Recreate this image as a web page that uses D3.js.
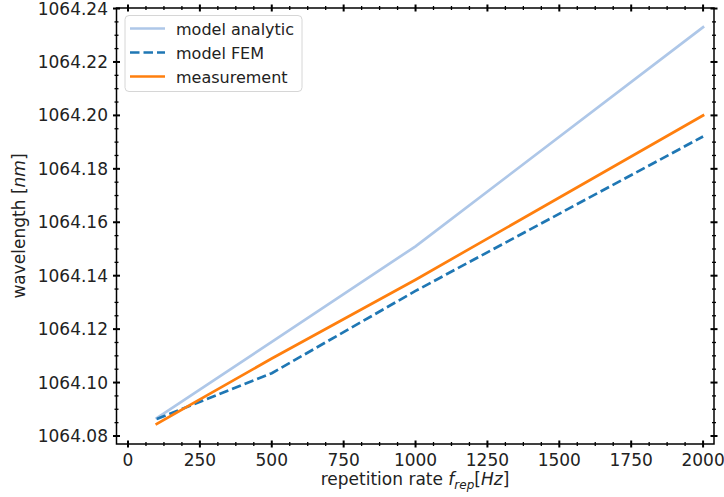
<!DOCTYPE html>
<html>
<head>
<meta charset="utf-8">
<script src="https://cdn.jsdelivr.net/npm/d3@7"></script>
<style>
  html, body { margin: 0; padding: 0; background: #fff; }
  svg { display: block; font-family: "DejaVu Sans", sans-serif; }
</style>
</head>
<body>
<svg id="chart" width="724" height="497"></svg>
<script>
// Repetition rate (Hz) at which each curve is evaluated
const repRates = [100, 500, 1000, 2000];

// Wavelength (nm) for each series
const modelAnalytic = [1064.0867, 1064.1152, 1064.1510, 1064.2330];
const modelFEM      = [1064.0864, 1064.1035, 1064.1343, 1064.1921];
const measurement   = [1064.0845, 1064.1090, 1064.1385, 1064.2000];

const seriesNames  = ["model analytic", "model FEM", "measurement"];
const seriesValues = [modelAnalytic, modelFEM, measurement];
const seriesColors = ["#aec7e8", "#1f77b4", "#ff7f0e"];
const seriesDash   = [null, "9.5,4", null];

// Tick values
const xTicks = [0, 250, 500, 750, 1000, 1250, 1500, 1750, 2000];
const yTicks = [1064.08, 1064.10, 1064.12, 1064.14, 1064.16, 1064.18, 1064.20, 1064.22, 1064.24];

const svg = d3.select("#chart");
const plot = { left: 116.5, right: 714, top: 8, bottom: 444 };

const x = d3.scaleLinear().domain([-40, 2038]).range([plot.left, plot.right]);
const y = d3.scaleLinear().domain([1064.077, 1064.2402]).range([plot.bottom, plot.top]);

const xMinor = d3.range(0, 2040, 62.5).filter(v => v % 250 !== 0);
const yMinor = d3.range(0, 33).map(i => 1064.08 + i * 0.005)
  .filter(v => v <= 1064.2402 && Math.abs(Math.round(v / 0.02) * 0.02 - v) > 1e-6);

// Data lines
const line = d3.line().x((d, i) => x(repRates[i])).y(d => y(d));
seriesValues.forEach((vals, k) => {
  svg.append("path")
    .datum(vals)
    .attr("d", line)
    .attr("fill", "none")
    .attr("stroke", seriesColors[k])
    .attr("stroke-width", 2.7)
    .attr("stroke-dasharray", seriesDash[k])
    .attr("stroke-linecap", seriesDash[k] ? "butt" : "square");
});

// Frame
svg.append("rect")
  .attr("x", plot.left).attr("y", plot.top)
  .attr("width", plot.right - plot.left).attr("height", plot.bottom - plot.top)
  .attr("fill", "none").attr("stroke", "#000").attr("stroke-width", 1.5);

// Ticks crossing the spines (in and out) on all four sides
function ticksH(values, yPos, half, width) {
  svg.append("g").selectAll("line").data(values).join("line")
    .attr("x1", d => x(d)).attr("x2", d => x(d))
    .attr("y1", yPos - half).attr("y2", yPos + half)
    .attr("stroke", "#000").attr("stroke-width", width);
}
function ticksV(values, xPos, half, width) {
  svg.append("g").selectAll("line").data(values).join("line")
    .attr("y1", d => y(d)).attr("y2", d => y(d))
    .attr("x1", xPos - half).attr("x2", xPos + half)
    .attr("stroke", "#000").attr("stroke-width", width);
}
[plot.bottom, plot.top].forEach(p => { ticksH(xTicks, p, 3.5, 2); ticksH(xMinor, p, 2, 1.3); });
[plot.left, plot.right].forEach(p => { ticksV(yTicks, p, 3.5, 2); ticksV(yMinor, p, 2, 1.3); });

// Tick labels
const fs = 17;
svg.append("g").selectAll("text").data(xTicks).join("text")
  .attr("x", d => x(d)).attr("y", 466)
  .attr("text-anchor", "middle")
  .attr("font-size", fs).attr("fill", "#222")
  .text(d => d);
svg.append("g").selectAll("text").data(yTicks).join("text")
  .attr("x", 108).attr("y", d => y(d) + 6)
  .attr("text-anchor", "end")
  .attr("font-size", fs).attr("fill", "#222")
  .text(d => d.toFixed(2));

// Axis titles
const yl = svg.append("text")
  .attr("transform", `translate(25,${(plot.top + plot.bottom) / 2}) rotate(-90)`)
  .attr("text-anchor", "middle").attr("font-size", fs).attr("fill", "#222");
yl.append("tspan").text("wavelength [");
yl.append("tspan").attr("font-style", "italic").text("nm");
yl.append("tspan").text("]");

const xl = svg.append("text")
  .attr("x", 415).attr("y", 485)
  .attr("text-anchor", "middle").attr("font-size", fs).attr("fill", "#222");
xl.append("tspan").text("repetition rate ");
xl.append("tspan").attr("font-style", "italic").text("f");
xl.append("tspan").attr("font-style", "italic").attr("font-size", 12).attr("dy", 4).text("rep");
xl.append("tspan").attr("dy", -4).text("[");
xl.append("tspan").attr("font-style", "italic").text("Hz");
xl.append("tspan").text("]");

// Legend
const lg = svg.append("g");
lg.append("rect")
  .attr("x", 125).attr("y", 15.5).attr("width", 177).attr("height", 76)
  .attr("rx", 4).attr("fill", "#fff").attr("fill-opacity", 0.8)
  .attr("stroke", "#d6d6d6").attr("stroke-width", 1);
seriesNames.forEach((name, k) => {
  const cy = 28.5 + k * 24;
  lg.append("line")
    .attr("x1", 130).attr("x2", 165).attr("y1", cy).attr("y2", cy)
    .attr("stroke", seriesColors[k]).attr("stroke-width", 2.7)
    .attr("stroke-dasharray", seriesDash[k]);
  lg.append("text")
    .attr("x", 176).attr("y", cy + 6)
    .attr("font-size", 16).attr("fill", "#222")
    .text(name);
});
</script>
</body>
</html>
